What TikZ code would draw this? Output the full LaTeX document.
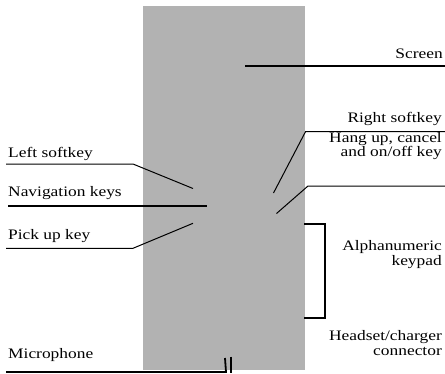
\documentclass[tikz,border=0pt]{standalone}
\usepackage{fontspec}
\setmainfont{Liberation Serif}[FakeStretch=1.2]
\definecolor{phonegray}{RGB}{178,178,178}
\begin{document}
\begin{tikzpicture}[x=1pt,y=-1pt,
  lbl/.style={inner sep=0pt,font=\fontsize{14.5}{14.5}\selectfont},
  lblL/.style={lbl,anchor=base west},
  lblR/.style={lbl,anchor=base east,align=right},
  thin/.style={line width=1pt},
  thick/.style={line width=1.8pt}]
\useasboundingbox (0,0) rectangle (445,373);
\fill[phonegray] (143,6) rectangle (305,370);
% labels
\node[lblR] (screen) at (443,58) {Screen};
\node[lblR] (rsoft) at (442,122.5) {Right softkey};
\node[lblR] (hang) at (442,156.5) {Hang up, cancel\\and on/off key};
\node[lblL] (lsoft) at (8,157) {Left softkey};
\node[lblL] (nav) at (8,196.5) {Navigation keys};
\node[lblL] (pick) at (8,239.5) {Pick up key};
\node[lblR] (alpha) at (442,265) {Alphanumeric\\keypad};
\node[lblR] (head) at (442,355) {Headset/charger\\connector};
\node[lblL] (mic) at (8,358.5) {Microphone};
% coordinates
\coordinate (scrA) at (245,65.7); \coordinate (scrB) at (445,65.7);
\coordinate (rsA) at (273.5,193); \coordinate (rsB) at (305.5,131.7); \coordinate (rsC) at (445,131.7);
\coordinate (hgA) at (276.5,213.5); \coordinate (hgB) at (308,186); \coordinate (hgC) at (445,186);
\coordinate (lsA) at (6,164); \coordinate (lsB) at (133,164); \coordinate (lsC) at (193,188.5);
\coordinate (nvA) at (8,205.7); \coordinate (nvB) at (207,205.7);
\coordinate (pkA) at (6,248.3); \coordinate (pkB) at (133,248.3); \coordinate (pkC) at (193,223.3);
\coordinate (brA) at (304,224); \coordinate (brB) at (325,224); \coordinate (brC) at (325,318.3); \coordinate (brD) at (304,318.3);
\coordinate (mcA) at (6,372); \coordinate (mcB) at (226,372);
\coordinate (mcT1) at (225,358); \coordinate (mcT2) at (231,356.7); \coordinate (mcB2) at (231,373);
% connectors
\draw[thick] (scrA) -- (scrB);
\draw[thin] (rsA) -- (rsB) -- (rsC);
\draw[thin] (hgA) -- (hgB) -- (hgC);
\draw[thin] (lsA) -- (lsB) -- (lsC);
\draw[thick] (nvA) -- (nvB);
\draw[thin] (pkA) -- (pkB) -- (pkC);
\draw[thick] (brA) -- (brB) -- (brC) -- (brD);
\draw[thick] (mcA) -- (mcB) -- (mcT1);
\draw[thick] (mcT2) -- (mcB2);
\end{tikzpicture}
\end{document}
